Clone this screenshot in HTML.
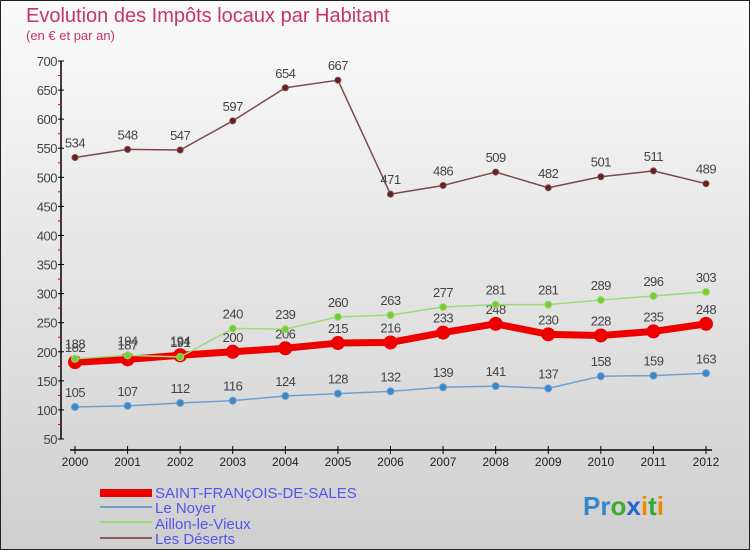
<!DOCTYPE html>
<html><head><meta charset="utf-8"><style>
body{margin:0;font-family:"Liberation Sans",sans-serif}
svg{display:block}
</style></head><body>
<svg id="c" width="750" height="550" xmlns="http://www.w3.org/2000/svg">
<defs><linearGradient id="bg" x1="0" y1="0" x2="0" y2="1"><stop offset="0" stop-color="#fbfbfb"/><stop offset="1" stop-color="#cfcfcf"/></linearGradient></defs>
<rect x="0.5" y="0.5" width="749" height="549" fill="url(#bg)" stroke="#222"/>
<text x="26" y="22" font-size="20" fill="#c8336a">Evolution des Impôts locaux par Habitant</text>
<text x="26" y="40" font-size="13" fill="#c8336a">(en € et par an)</text>
<g id="axes"></g><g id="series"></g>
<g font-size="15" fill="#5555ee">
<rect x="100" y="489" width="52" height="8" fill="#ee0000"/>
<text x="155" y="498">SAINT-FRANçOIS-DE-SALES</text>
<rect x="100" y="506" width="52" height="2" fill="#6fa0cc"/>
<text x="155" y="513">Le Noyer</text>
<rect x="100" y="521" width="52" height="2" fill="#99dd77"/>
<text x="155" y="529">Aillon-le-Vieux</text>
<rect x="100" y="537" width="52" height="2" fill="#8a5a5a"/>
<text x="155" y="544">Les Déserts</text>
</g>
<g font-size="26" font-weight="bold">
<text x="583" y="515"><tspan fill="#3388cc">Pr</tspan><tspan fill="#44aa33">o</tspan><tspan fill="#2266cc">x</tspan><tspan fill="#ee8800">i</tspan><tspan fill="#33aa33">t</tspan><tspan fill="#ee8800">i</tspan></text>
</g>
</svg>
<script>
const years=[2000,2001,2002,2003,2004,2005,2006,2007,2008,2009,2010,2011,2012];
const yTicks=[50,100,150,200,250,300,350,400,450,500,550,600,650,700];
const saint=[182,187,194,200,206,215,216,233,248,230,228,235,248];
const noyer=[105,107,112,116,124,128,132,139,141,137,158,159,163];
const aillon=[188,194,191,240,239,260,263,277,281,281,289,296,303];
const deserts=[534,548,547,597,654,667,471,486,509,482,501,511,489];
const NS="http://www.w3.org/2000/svg";
const X=i=>75+i*(706-75)/(years.length-1);
const Y=v=>439-(v-50)*(378/650);
function mk(t,a,p){const e=document.createElementNS(NS,t);for(const k in a)e.setAttribute(k,a[k]);p.appendChild(e);return e;}
const ax=document.getElementById('axes');
const yl=mk('line',{x1:61,y1:Y(700),x2:61,y2:Y(50),stroke:'#000','stroke-width':1.5},ax);


yTicks.forEach((v,i)=>{
  mk('line',{x1:58,y1:Y(v),x2:64,y2:Y(v),stroke:'#000'},ax);
  const t=mk('text',{x:57,y:Y(v)+5,'font-size':13,'text-anchor':'end',fill:'#444','letter-spacing':'-0.5'},ax);
  t.textContent=v;
  
  
  if(i<yTicks.length-1) mk('line',{x1:58,y1:Y(v+25),x2:61,y2:Y(v+25),stroke:'#e00'},ax);
});
const xl=mk('line',{x1:70,y1:450,x2:712,y2:450,stroke:'#000','stroke-width':1.5},ax);


years.forEach((y,i)=>{
  mk('line',{x1:X(i),y1:446,x2:X(i),y2:454,stroke:'#000'},ax);
  const t=mk('text',{x:X(i),y:466,'font-size':12,'text-anchor':'middle',fill:'#222'},ax);
  t.textContent=y;
  
  
});
const sg=document.getElementById('series');
function series(d,name,color,w,r,dot){
  const g=mk('g',{},sg);
  
  
  const pl=mk('polyline',{points:d.map((v,i)=>X(i)+','+Y(v)).join(' '),fill:'none',stroke:color,'stroke-width':w,'stroke-linejoin':'round'},g);
  
  
  d.forEach((v,i)=>{
    const c=mk('circle',{cx:X(i),cy:Y(v),r:r,fill:dot,stroke:color,'stroke-width':1},g);
    
    
    const t=mk('text',{x:X(i),y:Y(v)-10,'font-size':13,'text-anchor':'middle',fill:'#444','letter-spacing':'-0.5'},g);
    t.textContent=v;
    
    
  });
}
series(deserts,'les-deserts','#7a4a4a',1.5,3,'#6a2020');
series(noyer,'le-noyer','#6fa0cc',1.5,3.5,'#3a88cc');
series(saint,'saint-francois','#ee0000',7,6.5,'#ee0000');
series(aillon,'aillon-le-vieux','#99dd77',1.5,3.5,'#77cc33');
</script>
</body></html>
